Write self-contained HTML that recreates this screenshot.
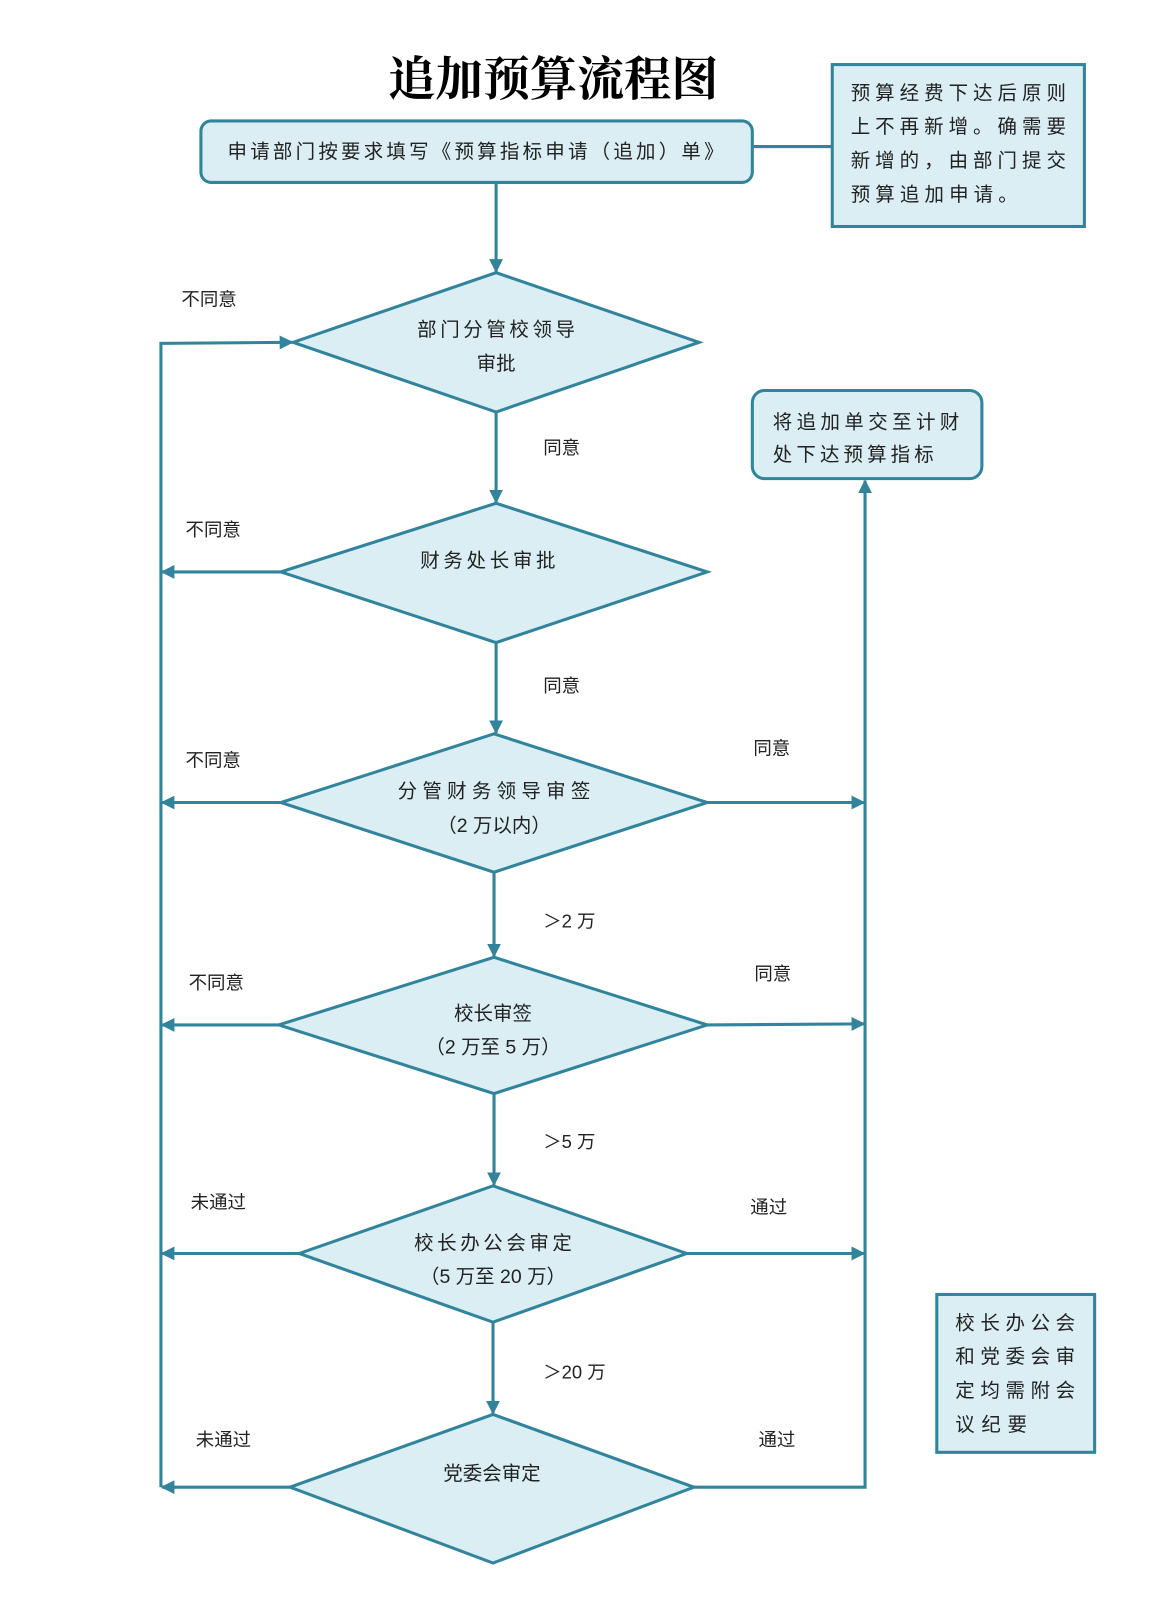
<!DOCTYPE html>
<html><head><meta charset="utf-8"><style>
html,body{margin:0;padding:0;background:#fff;width:1150px;height:1604px;overflow:hidden}
svg{display:block}
text{font-family:"Liberation Sans","Noto Sans CJK SC",sans-serif;fill:#222}
.t{font-size:19px;text-anchor:middle}
.l{font-size:18px}
</style></head><body>
<svg width="1150" height="1604" viewBox="0 0 1122 1565" xmlns="http://www.w3.org/2000/svg">
<defs>
<marker id="a" viewBox="0 0 10 10" refX="9" refY="5" markerWidth="4.5" markerHeight="4.5" orient="auto-start-reverse">
<path d="M0,0 L10,5 L0,10 z" fill="#31849b"/></marker>
</defs>
<g stroke="#31849b" stroke-width="3" fill="#daeef3">
<text x="540" y="93" stroke="none" style="font-family:'Noto Serif CJK SC','Liberation Serif',serif;font-size:46px;font-weight:bold;fill:#000;text-anchor:middle">追加预算流程图</text>
<rect x="196" y="118" width="538" height="60" rx="10"/>
<line x1="734" y1="143" x2="812" y2="143" fill="none"/>
<rect x="812" y="63" width="246" height="158"/>
<rect x="734" y="381" width="224" height="86" rx="12"/>
<rect x="914" y="1263" width="154" height="154"/>
<polygon points="484,266 682,334 484,402 286,334"/>
<polygon points="484,491 690,558 484,627 274,558"/>
<polygon points="482,716 690,783 482,851 274,783"/>
<polygon points="482,934 690,1000 482,1067 272,1000"/>
<polygon points="481,1157 670,1223 481,1290 292,1223"/>
<polygon points="481,1380 677,1451 481,1525 283,1451"/>
<g fill="none" marker-end="url(#a)">
<line x1="484" y1="178" x2="484" y2="265"/>
<line x1="484" y1="402" x2="484" y2="490"/>
<line x1="484" y1="627" x2="484" y2="715"/>
<line x1="482" y1="851" x2="482" y2="933"/>
<line x1="482" y1="1067" x2="482" y2="1156"/>
<line x1="481" y1="1290" x2="481" y2="1379"/>
<line x1="274" y1="558" x2="158" y2="558"/>
<line x1="274" y1="783" x2="158" y2="783"/>
<line x1="272" y1="1000" x2="158" y2="1000"/>
<line x1="292" y1="1223" x2="158" y2="1223"/>
<line x1="283" y1="1451" x2="158" y2="1451"/>
<path d="M157,1451 L157,335 L285,334"/>
<line x1="690" y1="783" x2="843" y2="783"/>
<line x1="690" y1="1000" x2="843" y2="999"/>
<line x1="670" y1="1223" x2="843" y2="1223"/>
<path d="M677,1451 L844,1451 L844,469"/>
</g>
</g>
<text x="464" y="154" class="t" textLength="484">申请部门按要求填写《预算指标申请（追加）单》</text>
<text x="830" y="97" class="t" style="text-anchor:start" textLength="210">预算经费下达后原则</text>
<text x="830" y="130" class="t" style="text-anchor:start" textLength="210">上不再新增。确需要</text>
<text x="830" y="163" class="t" style="text-anchor:start" textLength="210">新增的，由部门提交</text>
<text x="830" y="196" class="t" style="text-anchor:start" textLength="163">预算追加申请。</text>
<text x="754" y="418" class="t" style="text-anchor:start" textLength="182">将追加单交至计财</text>
<text x="754" y="450" class="t" style="text-anchor:start" textLength="157">处下达预算指标</text>
<text x="932" y="1297" class="t" style="text-anchor:start" textLength="117">校长办公会</text>
<text x="932" y="1330" class="t" style="text-anchor:start" textLength="117">和党委会审</text>
<text x="932" y="1363" class="t" style="text-anchor:start" textLength="117">定均需附会</text>
<text x="932" y="1396" class="t" style="text-anchor:start" textLength="70">议纪要</text>
<text x="484" y="328" class="t" textLength="154">部门分管校领导</text>
<text x="484" y="361" class="t">审批</text>
<text x="476" y="553" class="t" textLength="132">财务处长审批</text>
<text x="482" y="778" class="t" textLength="188">分管财务领导审签</text>
<text x="482" y="812" class="t">（2 万以内）</text>
<text x="481" y="995" class="t">校长审签</text>
<text x="481" y="1028" class="t">（2 万至 5 万）</text>
<text x="481" y="1219" class="t" textLength="154">校长办公会审定</text>
<text x="481" y="1252" class="t">（5 万至 20 万）</text>
<text x="480" y="1444" class="t">党委会审定</text>
<text x="177" y="298" class="l">不同意</text>
<text x="181" y="523" class="l">不同意</text>
<text x="181" y="748" class="l">不同意</text>
<text x="184" y="965" class="l">不同意</text>
<text x="186" y="1179" class="l">未通过</text>
<text x="191" y="1411" class="l">未通过</text>
<text x="530" y="443" class="l">同意</text>
<text x="530" y="675" class="l">同意</text>
<text x="530" y="905" class="l">＞2 万</text>
<text x="530" y="1120" class="l">＞5 万</text>
<text x="530" y="1345" class="l">＞20 万</text>
<text x="735" y="736" class="l">同意</text>
<text x="736" y="956" class="l">同意</text>
<text x="732" y="1184" class="l">通过</text>
<text x="740" y="1411" class="l">通过</text>
</svg>
</body></html>
